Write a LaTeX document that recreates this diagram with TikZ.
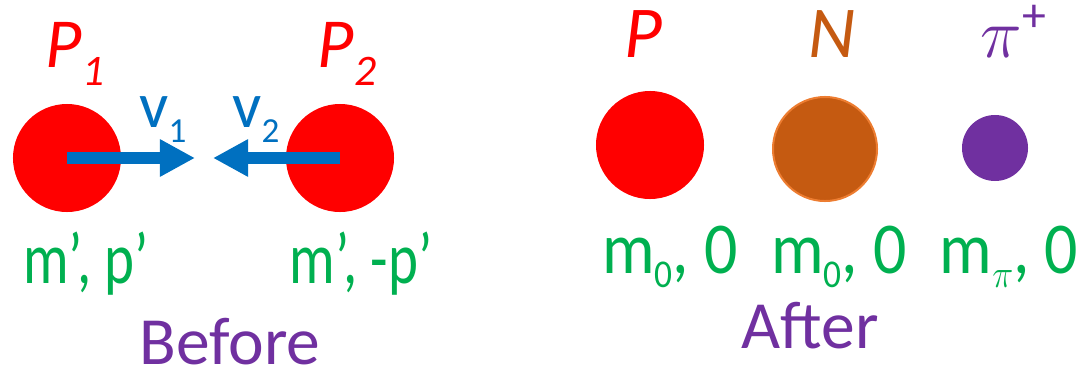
\documentclass[tikz,border=0pt]{standalone}
\usepackage{fix-cm}
\usepackage{fontspec}
\setmainfont{Carlito}
\usepackage{graphicx}
\usetikzlibrary{arrows.meta}
\definecolor{pred}{HTML}{FF0000}
\definecolor{vblue}{HTML}{0070C0}
\definecolor{mgreen}{HTML}{00B050}
\definecolor{tpurple}{HTML}{7030A0}
\definecolor{nbrown}{HTML}{C55A11}
\definecolor{nrim}{HTML}{ED7D31}
\newcommand{\fs}[1]{\fontsize{#1}{#1}\selectfont}
\newcommand{\dn}[3]{\raisebox{-#1}{\fs{#2}#3}}
\newcommand{\squeeze}[2][0.78]{\scalebox{#1}[1]{#2}}
\tikzset{
  ball/.style={circle,fill=#1,inner sep=0pt,minimum size=2.7cm},
  vel/.style={line width=0.3cm,vblue,-{Triangle[length=0.875cm,width=0.875cm]}},
  plbl/.style={anchor=base,inner sep=0pt,font=\fs{50pt}\itshape},
  vlbl/.style={anchor=base,inner sep=0pt,vblue,font=\fs{46pt}},
  mlbl/.style={anchor=base,inner sep=0pt,mgreen,font=\fs{52pt}},
  tlbl/.style={anchor=base,inner sep=0pt,tpurple,font=\fs{48pt}},
}
\begin{document}
\begin{tikzpicture}[x=0.025cm,y=-0.025cm]
  \useasboundingbox (0,0) rectangle (1084,375);
  % before
  \begin{scope}
    \node[ball=pred] (p1) at (67,158) {};
    \node[ball=pred] (p2) at (340,158) {};
    \coordinate (t1) at (195,158);
    \coordinate (t2) at (213,158);
    \draw[vel] (p1.center) -- (t1);
    \draw[vel] (p2.center) -- (t2);
    \node[plbl,pred] (lp1) at (75,67) {P\dn{13.5pt}{31pt}{1}};
    \node[plbl,pred] (lp2) at (347,67) {P\dn{13.5pt}{31pt}{2}};
    \node[vlbl] (lv1) at (163,127) {v\dn{10.7pt}{25pt}{1}};
    \node[vlbl] (lv2) at (256,127) {v\dn{10.7pt}{25pt}{2}};
    \node[mlbl] (m1) at (86,283) {\squeeze{m’, p’}};
    \node[mlbl] (m2) at (361,283) {\squeeze{m’, -p’}};
    \node[tlbl] (before) at (230,364) {Before};
  \end{scope}
  % after
  \begin{scope}
    \node[ball=pred] (pa) at (650,145) {};
    \node[ball=nbrown,draw=nrim,line width=0.05cm,minimum size=2.6cm] (nu) at (825,149) {};
    \node[ball=tpurple,minimum size=1.65cm] (pi) at (995,148) {};
    \node[plbl,pred,font=\fs{52pt}\itshape] (lpa) at (643,57) {P};
    \node[plbl,nbrown,font=\fs{52pt}\itshape] (lnu) at (832,57) {N};
    \node[plbl,tpurple,font=\fs{50pt}] (lpi) at (1014,57) {$\pi^{\mbox{\fs{34pt}+}}$};
    \node[mlbl] (m3) at (670,273) {\squeeze[0.9]{m\dn{10pt}{28pt}{0}, 0}};
    \node[mlbl] (m4) at (839,273) {\squeeze[0.9]{m\dn{10pt}{28pt}{0}, 0}};
    \node[mlbl] (m5) at (1009,273) {\squeeze[0.9]{m\dn{10pt}{28pt}{$\pi$}, 0}};
    \node[tlbl] (after) at (810,348) {After};
  \end{scope}
\end{tikzpicture}
\end{document}
